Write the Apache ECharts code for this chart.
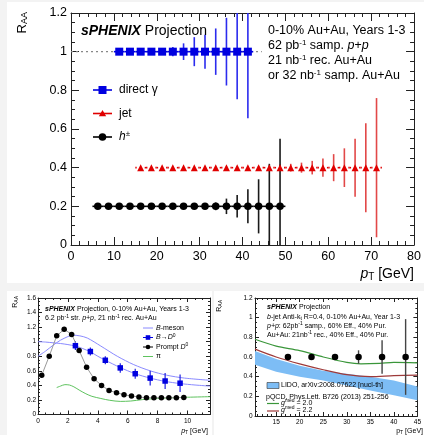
<!DOCTYPE html>
<html>
<head>
<meta charset="utf-8">
<script src="https://cdn.jsdelivr.net/npm/echarts@6/dist/echarts.min.js"></script>
<style>
html, body { margin: 0; padding: 0; background: #fff; }
#chart { width: 424px; height: 435px; }
</style>
</head>
<body>
<div id="chart"></div>
<script>
// ---------- Top panel: R_AA projections versus pT ----------
const binHalfWidth = 1.25;

const gammaPt  = [11.25, 13.75, 16.25, 18.75, 21.25, 23.75, 26.25, 28.75, 31.25, 33.75, 36.25, 38.75, 41.25];
const gammaRaa = [1, 1, 1, 1, 1, 1, 1, 1, 1, 1, 1, 1, 1];
const gammaErr = [0.004, 0.005, 0.006, 0.008, 0.012, 0.024, 0.043, 0.075, 0.088, 0.12, 0.175, 0.246, 0.344];

const jetPt  = [16.25, 18.75, 21.25, 23.75, 26.25, 28.75, 31.25, 33.75, 36.25, 38.75, 41.25, 43.75,
                46.25, 48.75, 51.25, 53.75, 56.25, 58.75, 61.25, 63.75, 66.25, 68.75, 71.25];
const jetRaa = [0.4, 0.4, 0.4, 0.4, 0.4, 0.4, 0.4, 0.4, 0.4, 0.4, 0.4, 0.4,
                0.4, 0.4, 0.4, 0.4, 0.4, 0.4, 0.4, 0.4, 0.4, 0.4, 0.4];
const jetErr = [0.003, 0.003, 0.003, 0.003, 0.004, 0.004, 0.005, 0.005, 0.006, 0.007, 0.008, 0.009,
                0.011, 0.016, 0.02, 0.026, 0.035, 0.047, 0.07, 0.1, 0.15, 0.23, 0.36];

const hadPt  = [6.25, 8.75, 11.25, 13.75, 16.25, 18.75, 21.25, 23.75, 26.25, 28.75, 31.25, 33.75,
                36.25, 38.75, 41.25, 43.75, 46.25, 48.75];
const hadRaa = [0.2, 0.2, 0.2, 0.2, 0.2, 0.2, 0.2, 0.2, 0.2, 0.2, 0.2, 0.2,
                0.2, 0.2, 0.2, 0.2, 0.2, 0.2];
const hadErr = [0.002, 0.002, 0.002, 0.002, 0.003, 0.003, 0.004, 0.005, 0.006, 0.008, 0.011, 0.02,
                0.04, 0.058, 0.088, 0.14, 0.22, 0.35];

const unityLineX = [0, 44.5];
const unityLineY = 1;

const mainXTicks = [0, 10, 20, 30, 40, 50, 60, 70, 80];
const mainYTicks = [0, 0.2, 0.4, 0.6, 0.8, 1, 1.2];

// ---------- Lower left: heavy flavour ----------
const d0Pt  = [0.25, 0.75, 1.25, 1.75, 2.25, 2.75, 3.25, 3.75, 4.25, 4.75, 5.25, 5.75, 6.25, 6.75,
               7.25, 7.75, 8.25, 8.75, 9.25, 9.75];
const d0Raa = [0.54, 0.80, 1.08, 1.17, 1.10, 0.88, 0.65, 0.49, 0.40, 0.33, 0.30, 0.27, 0.255, 0.24,
               0.23, 0.23, 0.23, 0.23, 0.23, 0.235];

const bd0Pt  = [2.5, 3.5, 4.5, 5.5, 6.5, 7.5, 8.5, 9.5];
const bd0Raa = [0.945, 0.865, 0.745, 0.64, 0.56, 0.50, 0.46, 0.43];
const bd0Err = [0.06, 0.055, 0.055, 0.065, 0.07, 0.1, 0.11, 0.12];

const bMesonPt  = [0, 0.5, 1, 1.5, 2, 2.3, 2.8, 3.3, 4.2, 5.3, 6.4, 7.5, 8.6, 9.8, 11.5];
const bMesonRaa = [0.80, 0.87, 0.95, 1.02, 1.07, 1.09, 1.08, 1.05, 0.94, 0.80, 0.685, 0.60, 0.54, 0.50, 0.47];

const bd0ModelPt  = [0, 0.5, 1, 1.5, 2, 2.5, 3, 3.5, 4, 4.5, 5.5, 6.5, 7.5, 8.5, 9.5, 10.5, 11.5];
const bd0ModelRaa = [1.0, 0.995, 0.985, 0.975, 0.96, 0.94, 0.905, 0.86, 0.80, 0.745, 0.645, 0.56, 0.50,
                     0.455, 0.425, 0.405, 0.39];

const pionPt  = [1.25, 1.5, 1.8, 2.1, 2.4, 2.8, 3.2, 3.6, 4.2, 4.8, 5.5, 6.2, 7.0, 8.0, 9.0, 10.0, 11.5];
const pionRaa = [0.37, 0.39, 0.41, 0.405, 0.38, 0.33, 0.285, 0.25, 0.22, 0.195, 0.18, 0.185, 0.205,
                 0.22, 0.23, 0.237, 0.245];

const hfXTicks = [0, 2, 4, 6, 8, 10];
const hfYTicks = [0, 0.2, 0.4, 0.6, 0.8, 1, 1.2, 1.4, 1.6];

// ---------- Lower right: b-jets ----------
const bjetPt  = [17.5, 22.5, 27.5, 32.5, 37.5, 42.5];
const bjetRaa = [0.6, 0.6, 0.6, 0.6, 0.6, 0.6];
const bjetErr = [0.005, 0.008, 0.015, 0.068, 0.17, 0.385];

const lidoPt   = [10.5, 15, 20, 25, 30, 35, 40, 45];
const lidoHigh = [0.66, 0.58, 0.51, 0.46, 0.43, 0.40, 0.36, 0.30];
const lidoLow  = [0.52, 0.45, 0.40, 0.36, 0.31, 0.26, 0.21, 0.16];

const g20Pt  = [10.5, 15, 20, 25, 30, 33, 37, 40, 45];
const g20Raa = [0.78, 0.71, 0.665, 0.60, 0.545, 0.53, 0.535, 0.545, 0.54];

const g22Pt  = [10.5, 15, 20, 25, 30, 35, 40, 45];
const g22Raa = [0.68, 0.60, 0.53, 0.47, 0.42, 0.40, 0.41, 0.415];

const bjXTicks = [15, 20, 25, 30, 35, 40, 45];
const bjXMinor = [11, 12, 13, 14, 16, 17, 18, 19, 21, 22, 23, 24, 26, 27, 28, 29, 31, 32, 33, 34,
                  36, 37, 38, 39, 41, 42, 43, 44];
const bjYTicks = [0, 0.2, 0.4, 0.6, 0.8, 1, 1.2];

// ---------- helpers ----------
const FONT = "'Liberation Sans', Arial, Helvetica, sans-serif";
const INK = '#222';
const zip = (xs, ys) => xs.map((x, i) => [x, ys[i]]);
const fmt = v => String(Number(v.toFixed(1)));

function frameAxis(o) {
  const tickLen = o.tickLen || 8, minorLen = o.minorLen || 4;
  return {
    gridIndex: o.grid, position: o.position, type: 'value',
    min: o.min, max: o.max, interval: o.interval,
    axisLine: { show: o.line !== false, onZero: false, lineStyle: { color: INK, width: 1 } },
    axisTick: Object.assign({ show: true, inside: true, length: tickLen, lineStyle: { color: INK, width: 1 } },
                            o.tickValues ? { customValues: o.tickValues } : {}),
    minorTick: { show: !!o.minor, splitNumber: o.minor || 5, length: minorLen, lineStyle: { color: INK, width: 1 } },
    axisLabel: o.labels ? Object.assign({
      show: true, color: '#000', fontFamily: FONT, fontSize: o.fontSize, margin: o.margin,
      formatter: v => (o.labels.some(t => Math.abs(t - v) < 1e-6) ? fmt(v) : '')
    }, o.labelValues ? { customValues: o.labelValues } : {}) : { show: false },
    splitLine: { show: false }, minorSplitLine: { show: false }
  };
}

function errorBars(o) {
  const data = o.xs.map((x, i) => [x, o.ys[i], o.errs[i]]);
  return {
    type: 'custom', xAxisIndex: o.xAxis, yAxisIndex: o.yAxis, clip: true, silent: true, z: 2,
    data: data,
    renderItem: function (params, api) {
      const x = api.value(0), y = api.value(1), e = api.value(2);
      const c = api.coord([x, y]);
      const top = api.coord([x, Math.min(y + e, o.yMax)]);
      const bot = api.coord([x, Math.max(y - e, o.yMin)]);
      const kids = [];
      if (o.halfWidth) {
        const l = api.coord([x - o.halfWidth, y]), r = api.coord([x + o.halfWidth, y]);
        const g = o.gap || 0;
        kids.push({ type: 'line', shape: { x1: l[0], y1: c[1], x2: c[0] - g, y2: c[1] },
                    style: { stroke: o.color, lineWidth: o.lw } });
        kids.push({ type: 'line', shape: { x1: c[0] + g, y1: c[1], x2: r[0], y2: c[1] },
                    style: { stroke: o.color, lineWidth: o.lw } });
      }
      if (bot[1] - top[1] > 1) {
        kids.push({ type: 'line', shape: { x1: c[0], y1: top[1], x2: c[0], y2: bot[1] },
                    style: { stroke: o.barColor || o.color, lineWidth: o.lw } });
      }
      return { type: 'group', children: kids };
    }
  };
}

function scatter(xs, ys, xAxis, yAxis, symbol, size, color) {
  return { type: 'scatter', xAxisIndex: xAxis, yAxisIndex: yAxis, data: zip(xs, ys),
           symbol: symbol, symbolSize: size, itemStyle: { color: color, opacity: 1 }, z: 3, silent: true };
}

function curve(xs, ys, xAxis, yAxis, color, width, smooth) {
  return { type: 'line', xAxisIndex: xAxis, yAxisIndex: yAxis, data: zip(xs, ys), showSymbol: false,
           smooth: smooth ? 0.3 : false, lineStyle: { color: color, width: width }, z: 1, silent: true };
}

// rich text styles shared by the annotations
function richSet(size) {
  return {
    n:   { fontFamily: FONT, fontSize: size, color: '#000' },
    i:   { fontFamily: FONT, fontSize: size, fontStyle: 'italic', color: '#000' },
    b:   { fontFamily: FONT, fontSize: size, fontStyle: 'italic', fontWeight: 'bold', color: '#000' },
    s:   { fontFamily: FONT, fontSize: Math.round(size * 0.65), color: '#000', verticalAlign: 'bottom', padding: [0, 0, size * 0.55, 0] },
    sub: { fontFamily: FONT, fontSize: Math.round(size * 0.7), color: '#000', verticalAlign: 'top', padding: [size * 0.45, 0, 0, 0] }
  };
}
function label(x, y, text, size, opts) {
  opts = opts || {};
  return { type: 'text', x: x, y: y, rotation: opts.rotation || 0, silent: true, z: 10,
           style: { text: text, rich: richSet(size), align: opts.align || 'left',
                    verticalAlign: 'middle', fill: '#000', font: size + 'px ' + FONT } };
}
function legendLine(x1, x2, y, color, w) {
  return { type: 'line', silent: true, z: 10, shape: { x1: x1, y1: y, x2: x2, y2: y },
           style: { stroke: color, lineWidth: w } };
}

// ---------- option ----------
const chart = echarts.init(document.getElementById('chart'), null, { renderer: 'canvas' });

const yTop = 1.2, yTopHF = 1.6;

const option = {
  animation: false,
  backgroundColor: '#f3f3f3',
  grid: [
    { left: 71, top: 13, width: 344, height: 232 },
    { left: 38, top: 298, width: 172, height: 116.5 },
    { left: 255, top: 298, width: 169.5, height: 118 }
  ],
  xAxis: [
    frameAxis({ grid: 0, position: 'bottom', min: 0, max: 80, interval: 10, minor: 5, labels: mainXTicks, fontSize: 12.5, margin: 5 }),
    frameAxis({ grid: 0, position: 'top', min: 0, max: 80, interval: 10, minor: 5 }),
    frameAxis({ grid: 1, position: 'bottom', min: 0, max: 11.5, interval: 2, minor: 4, labels: hfXTicks, fontSize: 6.5, margin: 3, tickLen: 4, minorLen: 2 }),
    frameAxis({ grid: 1, position: 'top', min: 0, max: 11.5, interval: 2, minor: 4, tickLen: 4, minorLen: 2 }),
    frameAxis({ grid: 2, position: 'bottom', min: 10.5, max: 45, tickValues: bjXTicks, labelValues: bjXTicks, labels: bjXTicks, fontSize: 6.5, margin: 3, tickLen: 4 }),
    frameAxis({ grid: 2, position: 'top', min: 10.5, max: 45, tickValues: bjXTicks, tickLen: 4 }),
    frameAxis({ grid: 2, position: 'bottom', min: 10.5, max: 45, tickValues: bjXMinor, tickLen: 2, line: false }),
    frameAxis({ grid: 2, position: 'top', min: 10.5, max: 45, tickValues: bjXMinor, tickLen: 2, line: false })
  ],
  yAxis: [
    frameAxis({ grid: 0, position: 'left', min: 0, max: yTop, interval: 0.2, minor: 4, labels: mainYTicks, fontSize: 12.5, margin: 4 }),
    frameAxis({ grid: 0, position: 'right', min: 0, max: yTop, interval: 0.2, minor: 4 }),
    frameAxis({ grid: 1, position: 'left', min: 0, max: yTopHF, interval: 0.2, minor: 4, labels: hfYTicks, fontSize: 6.5, margin: 2, tickLen: 4, minorLen: 2 }),
    frameAxis({ grid: 1, position: 'right', min: 0, max: yTopHF, interval: 0.2, minor: 4, tickLen: 4, minorLen: 2 }),
    frameAxis({ grid: 2, position: 'left', min: 0, max: yTop, interval: 0.2, minor: 4, labels: bjYTicks, fontSize: 6.5, margin: 2.5, tickLen: 4, minorLen: 2 }),
    frameAxis({ grid: 2, position: 'right', min: 0, max: yTop, interval: 0.2, minor: 4, tickLen: 4, minorLen: 2 })
  ],
  series: [
    // top panel
    { type: 'line', xAxisIndex: 0, yAxisIndex: 0, data: unityLineX.map(x => [x, unityLineY]), showSymbol: false,
      lineStyle: { color: '#888', width: 1.2, type: [2, 3] }, z: 1, silent: true },
    errorBars({ xs: gammaPt, ys: gammaRaa, errs: gammaErr, xAxis: 0, yAxis: 0, halfWidth: binHalfWidth,
                color: '#0000e0', barColor: '#2b2bee', lw: 1.6, yMin: 0, yMax: yTop }),
    errorBars({ xs: jetPt, ys: jetRaa, errs: jetErr, xAxis: 0, yAxis: 0, halfWidth: binHalfWidth, gap: 4,
                color: '#e00000', barColor: '#e24848', lw: 1.6, yMin: 0, yMax: yTop }),
    errorBars({ xs: hadPt, ys: hadRaa, errs: hadErr, xAxis: 0, yAxis: 0, halfWidth: binHalfWidth,
                color: '#000', barColor: '#1a1a1a', lw: 1.6, yMin: 0, yMax: yTop }),
    scatter(gammaPt, gammaRaa, 0, 0, 'rect', 8, '#0000e0'),
    scatter(jetPt, jetRaa, 0, 0, 'triangle', 7, '#e00000'),
    scatter(hadPt, hadRaa, 0, 0, 'circle', 7.5, '#000'),

    // lower left panel
    curve(bMesonPt, bMesonRaa, 2, 2, '#8a8aff', 1, true),
    curve(bd0ModelPt, bd0ModelRaa, 2, 2, '#8a8aff', 1, true),
    curve(pionPt, pionRaa, 2, 2, '#5ec35e', 1, true),
    { type: 'line', xAxisIndex: 2, yAxisIndex: 2, data: zip(d0Pt, d0Raa), symbol: 'circle', symbolSize: 5.5,
      itemStyle: { color: '#000' }, lineStyle: { color: '#999', width: 1 }, z: 3, silent: true },
    errorBars({ xs: bd0Pt, ys: bd0Raa, errs: bd0Err, xAxis: 2, yAxis: 2, color: '#1f1fe0', lw: 1.2, yMin: 0, yMax: yTopHF }),
    scatter(bd0Pt, bd0Raa, 2, 2, 'rect', 5.5, '#0000e0'),

    // lower right panel
    {
      type: 'custom', xAxisIndex: 4, yAxisIndex: 4, clip: true, silent: true, z: 1, data: [[0]],
      renderItem: function (params, api) {
        const pts = lidoPt.map((x, i) => api.coord([x, lidoHigh[i]]))
          .concat(lidoPt.map((x, i) => api.coord([x, lidoLow[i]])).reverse());
        return { type: 'polygon', shape: { points: pts }, style: { fill: '#7dbdf5' } };
      }
    },
    curve(g20Pt, g20Raa, 4, 4, '#3a963a', 1.2, true),
    curve(g22Pt, g22Raa, 4, 4, '#9e3a3a', 1.2, true),
    errorBars({ xs: bjetPt, ys: bjetRaa, errs: bjetErr, xAxis: 4, yAxis: 4, color: '#444', lw: 1.4, yMin: 0, yMax: yTop }),
    scatter(bjetPt, bjetRaa, 4, 4, 'circle', 6.5, '#000')
  ],
  graphic: [
    // paper panels
    { type: 'rect', z: -10, silent: true, shape: { x: 7, y: 2, width: 417, height: 281 }, style: { fill: '#fff' } },
    { type: 'rect', z: -10, silent: true, shape: { x: 7, y: 291, width: 205, height: 144 }, style: { fill: '#fff' } },
    { type: 'rect', z: -10, silent: true, shape: { x: 214, y: 291, width: 210, height: 144 }, style: { fill: '#fff' } },

    // top panel annotations
    label(81, 31, '{b|sPHENIX}{n| Projection}', 14),
    label(268, 31, '{n|0-10% Au+Au, Years 1-3}', 12.5),
    label(268, 46, '{n|62 pb}{s|-1}{n| samp. }{i|p+p}', 12.5),
    label(268, 61, '{n|21 nb}{s|-1}{n| rec. Au+Au}', 12.5),
    label(268, 76, '{n|or 32 nb}{s|-1}{n| samp. Au+Au}', 12.5),
    label(22, 12, '{n|R}{sub|AA}', 13, { rotation: Math.PI / 2, align: 'right' }),
    label(414, 274, '{i|p}{sub|T}{n| [GeV]}', 14, { align: 'right' }),

    // top panel legend
    legendLine(93, 112, 90, '#0000e0', 1.6),
    { type: 'rect', silent: true, z: 11, shape: { x: 98.5, y: 86, width: 8, height: 8 }, style: { fill: '#0000e0' } },
    label(119, 90, '{n|direct γ}', 12),
    legendLine(93, 112, 113.5, '#e00000', 1.6),
    { type: 'polygon', silent: true, z: 11, shape: { points: [[102.5, 110], [106.2, 116.3], [98.8, 116.3]] }, style: { fill: '#e00000' } },
    label(119, 113.5, '{n|jet}', 12),
    legendLine(93, 112, 137, '#000', 1.6),
    { type: 'circle', silent: true, z: 11, shape: { cx: 102.5, cy: 137, r: 3.8 }, style: { fill: '#000' } },
    label(119, 137, '{i|h}{s|±}', 12),

    // lower left annotations
    label(45, 309, '{b|sPHENIX}{n| Projection, 0-10% Au+Au, Years 1-3}', 7),
    label(45, 318.5, '{n|6.2 pb}{s|-1}{n| str. }{i|p+p}{n|, 21 nb}{s|-1}{n| rec. Au+Au}', 7),
    label(15, 296, '{n|R}{sub|AA}', 7, { rotation: Math.PI / 2, align: 'right' }),
    label(208, 431, '{i|p}{sub|T}{n| [GeV]}', 7, { align: 'right' }),
    legendLine(143, 153, 328, '#8a8aff', 1),
    label(156, 328, '{i|B}{n|-meson}', 7),
    legendLine(143, 153, 337.5, '#0000e0', 1),
    { type: 'rect', silent: true, z: 11, shape: { x: 145.7, y: 335.2, width: 4.6, height: 4.6 }, style: { fill: '#0000e0' } },
    label(156, 337.5, '{i|B}{n|→}{i|D}{s|0}', 7),
    legendLine(143, 153, 347, '#000', 1),
    { type: 'circle', silent: true, z: 11, shape: { cx: 148, cy: 347, r: 2.3 }, style: { fill: '#000' } },
    label(156, 347, '{n|Prompt }{i|D}{s|0}', 7),
    legendLine(143, 153, 356.5, '#5ec35e', 1),
    label(156, 356.5, '{n|π}', 7),

    // lower right annotations
    label(267, 307.5, '{b|sPHENIX}{n| Projection}', 7),
    label(267, 316.7, '{i|b}{n|-jet Anti-k}{sub|t}{n| R=0.4, 0-10% Au+Au, Year 1-3}', 7),
    label(267, 326, '{i|p+p}{n|: 62pb}{s|-1}{n| samp., 60% Eff., 40% Pur.}', 7),
    label(267, 335, '{n|Au+Au: 21nb}{s|-1}{n| rec., 40% Eff., 40% Pur.}', 7),
    label(219, 300, '{n|R}{sub|AA}', 7, { rotation: Math.PI / 2, align: 'right' }),
    label(423, 431, '{n|p}{sub|T}{n| [GeV]}', 7, { align: 'right' }),
    { type: 'rect', silent: true, z: 11, shape: { x: 267, y: 382.5, width: 12, height: 6 }, style: { fill: '#7dbdf5', stroke: '#333', lineWidth: 0.6 } },
    label(281, 385.5, '{n|LIDO, arXiv:2008.07622 [nucl-th]}', 7),
    label(266, 397, '{n|pQCD, Phys.Lett. B726 (2013) 251-256}', 7),
    legendLine(267, 279, 403.5, '#3a963a', 1.2),
    label(281, 403, '{i|g}{s|med}{n| = 2.0}', 7),
    legendLine(267, 279, 411, '#9e3a3a', 1.2),
    label(281, 410, '{i|g}{s|med}{n| = 2.2}', 7)
  ]
};

chart.setOption(option);
</script>
</body>
</html>
